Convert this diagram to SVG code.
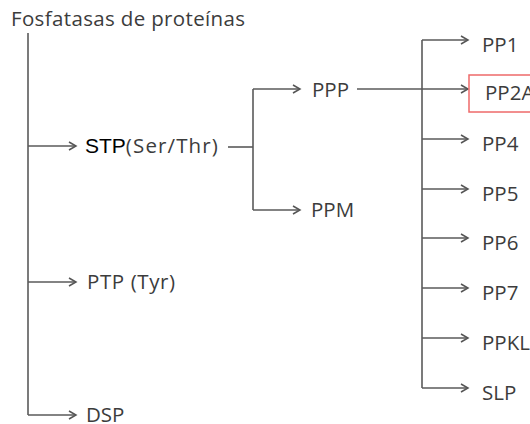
<svg xmlns="http://www.w3.org/2000/svg" width="530" height="424" viewBox="0 0 530 424">
<defs>
<marker id="arr" markerUnits="userSpaceOnUse" markerWidth="12" markerHeight="12" refX="8" refY="5" orient="auto" viewBox="0 0 12 10">
<path d="M1,1 L8,5 L1,9" fill="none" stroke="#555" stroke-width="1.5"/>
</marker>
<style>
.ln{fill:none;stroke:#5a5a5a;stroke-width:1.6}
.ar{marker-end:url(#arr)}
.t{font-family:"Open Sans","Noto Sans",sans-serif;font-size:20.5px;fill:#3c3c3c}
.a{font-family:"Liberation Sans",Arial,sans-serif;font-size:21px;fill:#000}
</style>
</defs>
<rect width="530" height="424" fill="#fff"/>
<g id="connectors">
<path class="ln" d="M28,33 V415"/>
<path class="ln ar" d="M28,146 H76"/>
<path class="ln ar" d="M28,282 H76"/>
<path class="ln ar" d="M28,415 H76"/>
<path class="ln" d="M228,147 H253"/>
<path class="ln" d="M253,89 V210"/>
<path class="ln ar" d="M253,89 H300"/>
<path class="ln ar" d="M253,210 H300"/>
<path class="ln ar" d="M357,89 H468"/>
<path class="ln" d="M422,40 V388"/>
<path class="ln ar" d="M422,40 H468"/>
<path class="ln ar" d="M422,139 H468"/>
<path class="ln ar" d="M422,189 H468"/>
<path class="ln ar" d="M422,238 H468"/>
<path class="ln ar" d="M422,288 H468"/>
<path class="ln ar" d="M422,338 H468"/>
<path class="ln ar" d="M422,388 H468"/>
</g>
<g id="root"><text class="t" x="11" y="26" textLength="234" font-size="21">Fosfatasas de proteínas</text></g>
<g id="stp"><text x="85" y="153"><tspan class="a">STP</tspan><tspan class="t" textLength="92">(Ser/Thr)</tspan></text></g>
<g id="ptp"><text class="t" x="87" y="289" textLength="88">PTP (Tyr)</text></g>
<g id="dsp"><text class="t" x="86" y="422">DSP</text></g>
<g id="ppp"><text class="t" x="312" y="97">PPP</text></g>
<g id="ppm"><text class="t" x="311" y="217">PPM</text></g>
<g id="pp1"><text class="t" x="482" y="52">PP1</text></g>
<g id="pp2a"><rect x="469" y="75" width="70" height="37" fill="none" stroke="#ee6a6a" stroke-width="1.5"/><text class="t" x="485" y="100">PP2A</text></g>
<g id="pp4"><text class="t" x="482" y="151">PP4</text></g>
<g id="pp5"><text class="t" x="482" y="201">PP5</text></g>
<g id="pp6"><text class="t" x="482" y="250">PP6</text></g>
<g id="pp7"><text class="t" x="482" y="300">PP7</text></g>
<g id="ppkl"><text class="t" x="482" y="350">PPKL</text></g>
<g id="slp"><text class="t" x="482" y="400">SLP</text></g>
</svg>
